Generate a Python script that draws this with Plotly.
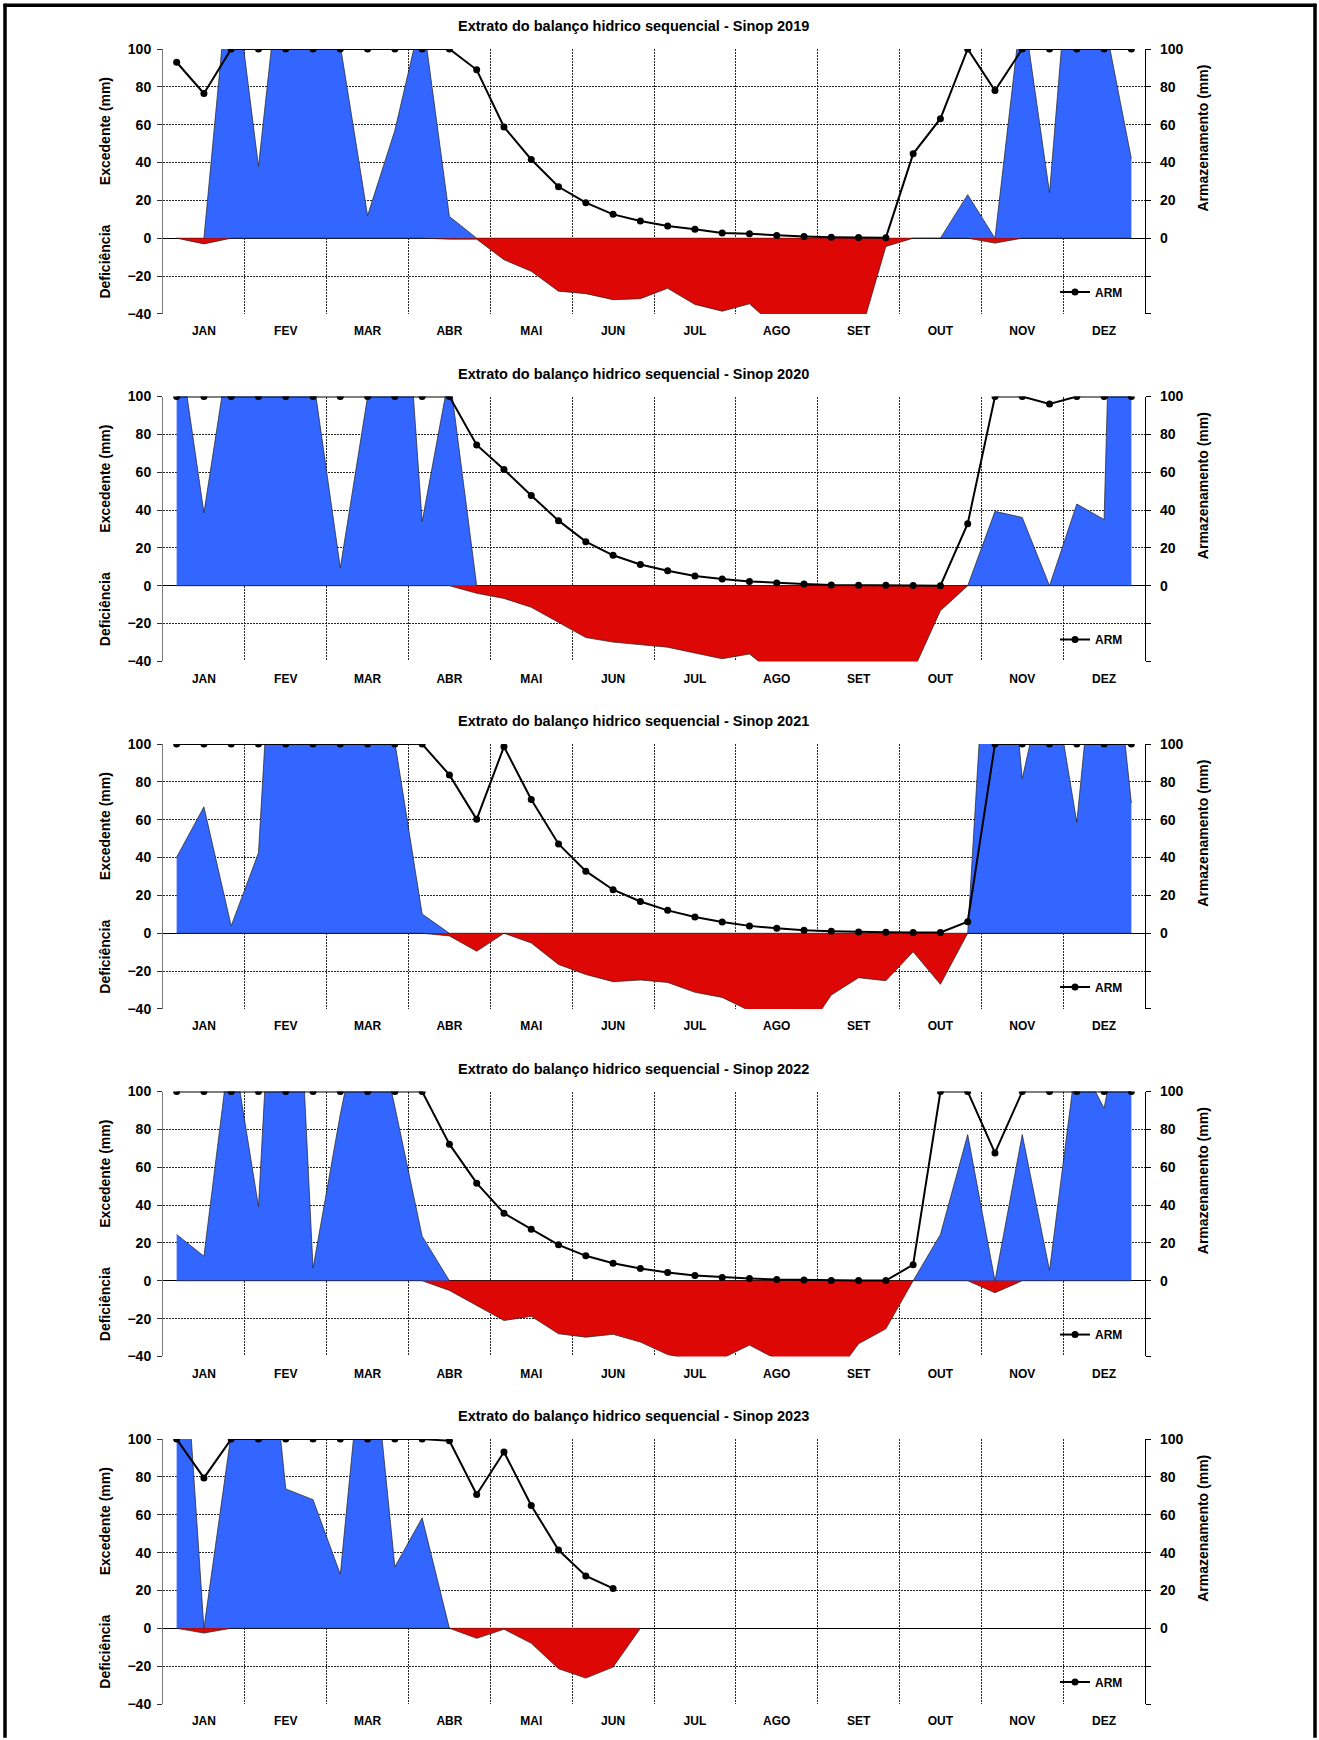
import plotly.graph_objects as go

# ---------------- data (36 decêndios per year) ----------------
months = ["JAN", "FEV", "MAR", "ABR", "MAI", "JUN", "JUL", "AGO", "SET", "OUT", "NOV", "DEZ"]
years = [2019, 2020, 2021, 2022, 2023]

exc_2019 = [0, 0, 153, 38, 170, 140, 102, 12, 57, 119, 11.5,
            0, 0, 0, 0, 0, 0, 0, 0, 0, 0, 0, 0, 0, 0, 0, 0, 0, 0,
            23, 0, 125, 24, 200, 116, 42]
def_2019 = [0, -3, 0, 0, 0, 0, 0, 0, 0, 0, -0.5, -0.5, -11.4, -17.5, -28, -29.3, -32.5, -32,
            -26.5, -35, -38.6, -34.7, -47.5, -50, -52, -54, -4.4, 0, 0, 0, -2.6, 0, 0, 0, 0, 0]
arm_2019 = [93, 76.5, 100, 100, 100, 100, 100, 100, 100, 100, 100, 89, 58.8, 41.6, 27.2, 18.8,
            12.6, 9.1, 6.5, 4.7, 2.8, 2.3, 1.4, 0.9, 0.5, 0.4, 0.3, 44.6, 63.2, 100, 78,
            100, 100, 100, 100, 100]

exc_2020 = [138, 38.6, 132, 150, 150, 111, 9.5, 100, 240, 34, 112,
            0, 0, 0, 0, 0, 0, 0, 0, 0, 0, 0, 0, 0, 0, 0, 0, 0, 0,
            0, 39.3, 36.1, 0, 43.2, 35, 560]
def_2020 = [0, 0, 0, 0, 0, 0, 0, 0, 0, 0, 0, -4, -6.7, -11.4, -19.3, -27.4, -29.8, -31.2,
            -32.5, -35.6, -38.6, -36.1, -47.6, -48, -50, -52, -48, -45, -13.2, 0, 0, 0, 0, 0, 0, 0]
arm_2020 = [100, 100, 100, 100, 100, 100, 100, 100, 100, 100, 100, 74.4, 61.4, 47.7, 34.4, 23.3,
            16.1, 11.2, 7.9, 5.1, 3.5, 2.3, 1.4, 0.9, 0.4, 0.2, 0.2, 0.1, 0, 32.8, 100, 100,
            96.1, 100, 100, 100]

exc_2021 = [40.2, 66.8, 3.9, 42.5, 290, 220, 200, 180, 101, 10.2, 0,
            0, 0, 0, 0, 0, 0, 0, 0, 0, 0, 0, 0, 0, 0, 0, 0, 0, 0, 0,
            240, 81.8, 146, 58.6, 206, 68.8]
def_2021 = [0, 0, 0, 0, 0, 0, 0, 0, 0, 0, -1.4, -9.5, 0, -5.1, -16.5, -21.8, -25.6, -24.7,
            -26, -31.2, -33.9, -41, -48, -54, -32.6, -23.5, -25.1, -9.8, -27, 0, 0, 0, 0, 0, 0, 0]
arm_2021 = [100, 100, 100, 100, 100, 100, 100, 100, 100, 100, 83.7, 60.2, 98.6, 70.7, 47.2, 32.8,
            23, 16.8, 12.1, 8.6, 6, 3.9, 2.6, 1.6, 1.1, 0.7, 0.5, 0.4, 0.4, 6.1,
            100, 100, 100, 100, 100, 100]

exc_2022 = [24.5, 13, 129, 39.3, 305, 6.7, 88, 158, 92, 23.6, 0,
            0, 0, 0, 0, 0, 0, 0, 0, 0, 0, 0, 0, 0, 0, 0, 0, 0,
            24.5, 77.3, 0, 77.3, 5.5, 119, 91.2, 166]
def_2022 = [0, 0, 0, 0, 0, 0, 0, 0, 0, 0, -5.1, -13, -21, -18.8, -28, -29.8, -28.3, -32.4,
            -39, -42, -41, -34, -41.5, -48, -53, -33.3, -25.4, 0, 0, 0, -6.3, 0, 0, 0, 0, 0]
arm_2022 = [100, 100, 100, 100, 100, 100, 100, 100, 100, 100, 72.2, 51.6, 35.7, 27.3, 19, 13.2,
            9.3, 6.5, 4.4, 2.8, 1.8, 1.2, 0.7, 0.4, 0.2, 0.2, 0.1, 8.5, 100, 100, 67.6,
            100, 100, 100, 100, 100]

exc_2023 = [217, 0, 103, 216, 73.7, 68, 28.6, 177, 32.5, 58.4, 0, 0, 0, 0, 0, 0, 0, 0]
def_2023 = [0, -2.5, 0, 0, 0, 0, 0, 0, 0, 0, 0, -5.3, -0.5, -7.9, -21.4, -26.3, -20.5, 0]
arm_2023 = [100, 79.5, 100, 100, 100, 100, 100, 100, 100, 100, 99.1, 70.7, 93.2, 64.9, 41.4,
            27.7, 21.1]

exc_all = [exc_2019, exc_2020, exc_2021, exc_2022, exc_2023]
def_all = [def_2019, def_2020, def_2021, def_2022, def_2023]
arm_all = [arm_2019, arm_2020, arm_2021, arm_2022, arm_2023]

left_ticks = [-40, -20, 0, 20, 40, 60, 80, 100]
grid_vals = [-40, -20, 20, 40, 60, 80, 100]
right_ticks = [-40, -20, 0, 20, 40, 60, 80, 100]
right_ticktext = ["", "", "0", "20", "40", "60", "80", "100"]

# ---------------- styling / geometry ----------------
W, H = 1319, 1740
L, R, T, B = 163, 174, 49, 29
PW = W - L - R
PH = H - T - B
PITCH = 349
PLOT_H = 266
FONT = "Liberation Sans, Arial, sans-serif"
BLUE = "#3366FF"
RED = "#DD0805"
GRID = "#262626"
DASH = "2px,1px"


def px_x(p):
    return (p - L) / PW


def px_y(p):
    return (H - B - p) / PH


fig = go.Figure()
annotations = []
layout = dict(
    width=W, height=H,
    margin=dict(l=L, r=R, t=T, b=B, pad=0),
    paper_bgcolor="white", plot_bgcolor="white",
    font=dict(family=FONT, color="black"),
    showlegend=True,
)

for i, yr in enumerate(years):
    top = T + PITCH * i
    bot = top + PLOT_H
    xn = "x" if i == 0 else f"x{i + 1}"
    yl = "y" if i == 0 else f"y{i + 1}"
    yr_axis = f"y{i + 6}"
    xkey = "xaxis" if i == 0 else f"xaxis{i + 1}"
    ylkey = "yaxis" if i == 0 else f"yaxis{i + 1}"
    yrkey = f"yaxis{i + 6}"
    lgkey = "legend" if i == 0 else f"legend{i + 1}"

    exc = exc_all[i]
    dfc = def_all[i]
    arm = arm_all[i]
    xs_e = [k + 0.5 for k in range(len(exc))]
    xs_d = [k + 0.5 for k in range(len(dfc))]
    xs_a = [k + 0.5 for k in range(len(arm))]

    fig.add_trace(go.Scatter(x=xs_e, y=exc, xaxis=xn, yaxis=yl, mode="lines",
                             fill="tozeroy", fillcolor=BLUE,
                             line=dict(color="#202020", width=0.7),
                             showlegend=False, hoverinfo="skip"))
    fig.add_trace(go.Scatter(x=xs_d, y=dfc, xaxis=xn, yaxis=yl, mode="lines",
                             fill="tozeroy", fillcolor=RED,
                             line=dict(color="#202020", width=0.7),
                             showlegend=False, hoverinfo="skip"))
    fig.add_trace(go.Scatter(x=xs_a, y=arm, xaxis=xn, yaxis=yr_axis, mode="lines+markers",
                             name="ARM", legend=lgkey,
                             line=dict(color="black", width=2),
                             marker=dict(color="black", size=7)))

    dom = [px_y(bot), px_y(top)]
    layout[xkey] = dict(
        domain=[0, 1], anchor=yl, range=[0, 36],
        tickmode="array", tickvals=[1.5 + 3 * m for m in range(12)], ticktext=months,
        ticks="outside", ticklen=6, tickcolor="rgba(0,0,0,0)",
        showgrid=False, zeroline=False, showline=False,
        tickfont=dict(family=FONT, size=12, weight="bold", color="black"),
        minor=dict(tickmode="array", tickvals=[3 * m for m in range(1, 12)],
                   showgrid=True, gridcolor=GRID, griddash=DASH, gridwidth=1, ticks=""),
        fixedrange=True,
    )
    layout[ylkey] = dict(
        domain=dom, anchor=xn, range=[-40, 100],
        tickmode="array", tickvals=left_ticks,
        ticks="outside", ticklen=5, tickcolor="#303030", tickwidth=1,
        showline=True, linecolor="#7a7a7a", linewidth=1,
        showgrid=False,
        minor=dict(tickmode="array", tickvals=grid_vals,
                   showgrid=True, gridcolor=GRID, griddash=DASH, gridwidth=1, ticks=""),
        zeroline=True, zerolinecolor="black", zerolinewidth=1.2,
        tickfont=dict(family=FONT, size=14, weight="bold", color="black"),
        ticklabelstandoff=3,
        fixedrange=True,
    )
    layout[yrkey] = dict(
        overlaying=yl, side="right", anchor=xn, range=[-40, 100],
        tickmode="array", tickvals=right_ticks, ticktext=right_ticktext,
        ticks="outside", ticklen=5, tickcolor="black", tickwidth=1,
        showline=True, linecolor="black", linewidth=1.2,
        showgrid=False, zeroline=False,
        tickfont=dict(family=FONT, size=14, weight="bold", color="black"),
        ticklabelstandoff=6,
        fixedrange=True,
    )
    layout[lgkey] = dict(
        x=px_x(1128), y=px_y(top + 244), xanchor="right", yanchor="middle",
        bgcolor="rgba(0,0,0,0)", borderwidth=0,
        font=dict(family=FONT, size=12, weight="bold", color="black"),
        itemwidth=30,
    )

    annotations.append(dict(
        text=f"Extrato do balanço hidrico sequencial - Sinop {yr}",
        x=px_x(633.5), y=px_y(top - 23), xref="paper", yref="paper",
        xanchor="center", yanchor="middle", showarrow=False,
        font=dict(family=FONT, size=14.5, weight="bold", color="black")))
    annotations.append(dict(
        text="Excedente (mm)", x=px_x(105), y=px_y(top + 82.5), xref="paper", yref="paper",
        xanchor="center", yanchor="middle", showarrow=False, textangle=-90,
        font=dict(family=FONT, size=14, weight="bold", color="black")))
    annotations.append(dict(
        text="Deficiência", x=px_x(105), y=px_y(top + 213.5), xref="paper", yref="paper",
        xanchor="center", yanchor="middle", showarrow=False, textangle=-90,
        font=dict(family=FONT, size=14, weight="bold", color="black")))
    annotations.append(dict(
        text="Armazenamento (mm)", x=px_x(1203), y=px_y(top + 90), xref="paper", yref="paper",
        xanchor="center", yanchor="middle", showarrow=False, textangle=-90,
        font=dict(family=FONT, size=14, weight="bold", color="black")))

layout["annotations"] = annotations

# outer frame of the picture (left, top, right)
frame = dict(type="line", xref="paper", yref="paper", line=dict(color="black", width=3.5))
layout["shapes"] = [
    dict(frame, x0=px_x(5), x1=px_x(5), y0=px_y(3.5), y1=px_y(H + 5)),
    dict(frame, x0=px_x(3.5), x1=px_x(1316.5), y0=px_y(5), y1=px_y(5)),
    dict(frame, x0=px_x(1315), x1=px_x(1315), y0=px_y(3.5), y1=px_y(H + 5)),
]

fig.update_layout(**layout)

fig.write_html("out.html", config={"displayModeBar": False, "staticPlot": True},
               post_script="document.body.style.margin='0';document.body.style.overflow='hidden';")
